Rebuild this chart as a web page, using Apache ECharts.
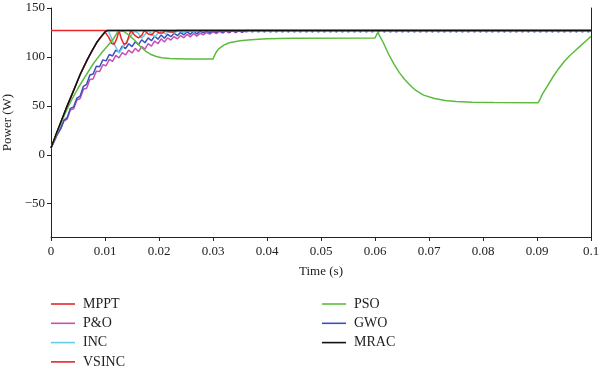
<!DOCTYPE html>
<html>
<head>
<meta charset="utf-8">
<script src="https://cdn.jsdelivr.net/npm/echarts@6/dist/echarts.min.js"></script>
<style>html,body{margin:0;padding:0;background:#fff}#c{width:600px;height:371px}</style>
</head>
<body>
<div id="c"></div>
<script>
// ---- data (time in s, power in W) ----
const xTicks = [0,0.01,0.02,0.03,0.04,0.05,0.06,0.07,0.08,0.09,0.1];
const yTicks = [-50,0,50,100,150];

const mpptT = [0, 0.1];
const mpptP = [127, 127];

const mracT = [0, 0.001, 0.002, 0.003, 0.004, 0.0054, 0.0067, 0.0076, 0.0085, 0.0093, 0.0100, 0.0104, 0.1];
const mracP = [7, 22, 36, 50, 63, 82, 97, 106.5, 115, 121, 125.5, 127, 127];

// ripple curves sampled at every 0.0006 s (peaks/troughs)
const rippleT = [0,0.0006,0.0012,0.0018,0.0024,0.003,0.0036,0.0042,0.0048,0.0054,0.006,0.0066,0.0072,0.0078,0.0084,0.009,0.0096,0.0102,0.0108,0.0114,0.012,0.0126,0.0132,0.0138,0.0144,0.015,0.0156,0.0162,0.0168,0.0174,0.018,0.0186,0.0192,0.0198,0.0204,0.021,0.0216,0.0222,0.0228,0.0234,0.024,0.0246,0.0252,0.0258,0.0264,0.027,0.0276,0.0282,0.0288,0.0294,0.03,0.0306,0.0312,0.0318,0.0324,0.033,0.0336,0.0342,0.0348,0.0354,0.036];
const gwoP = [7,14,21.5,27,35.5,38,47.5,49,58,60,70,72,81.5,82.5,90.5,90,97,96,102.5,101,107,105,111,108.5,113.5,110.5,115.5,112.5,117.5,114.5,119.5,116.5,121.3,118,122.5,119,123.1,120.7,124.2,121.7,125.1,122.5,125.8,123.1,126.4,123.6,126.3,124.5,126.7,124.8,126.9,125,127,125.2,127,125.3,127,125.4,127,125.5,127];
const poP = [7,14,21,26.5,34.5,36.5,46,47,56,57.5,67,68,77,77.5,85.5,85,92,91,97.5,95.5,101.5,99,104.5,102,107,104,108.8,105.5,110.5,108,113.5,111,116.3,113.5,118.5,115.3,119.5,117.2,120.8,118.5,122,119.5,123,120.5,123.9,121.3,124.2,122.6,125,123.3,125.6,123.9,126.1,124.3,126.5,124.7,126.8,124.9,127,125,127];
const poTailT = [0.036, 0.1];
const poTailP = [127, 127];
const gwoTailT = [0.036, 0.1];
const gwoTailP = [125.8, 125.8];

const incT = [0, 0.003, 0.0054, 0.0067, 0.0085, 0.0100, 0.0106, 0.0116, 0.0126, 0.0137, 0.0148, 0.0155, 0.0162, 0.0168, 0.0174, 0.018, 0.0186, 0.0192, 0.0198, 0.0205, 0.0212, 0.022, 0.0228, 0.0236, 0.0245, 0.0255, 0.0265, 0.0275, 0.1];
const incP = [7, 50, 82, 97, 115, 125.5, 127, 114, 104, 113, 122, 126.5, 124, 119, 123, 126.5, 124, 120.5, 124, 126.5, 123.5, 126.5, 124.5, 127, 125, 127, 125.8, 127, 127];

const vsincT = [0, 0.003, 0.0054, 0.0067, 0.0085, 0.0100, 0.0103, 0.0107, 0.0112, 0.0117, 0.0122, 0.0126, 0.013, 0.0135, 0.014, 0.0144, 0.0148, 0.0155, 0.0162, 0.0168, 0.0173, 0.018, 0.0187, 0.0193, 0.02, 0.0207, 0.0213, 0.022, 0.0227, 0.0233, 0.1];
const vsincP = [7, 50, 82, 97, 115, 125.5, 127, 120, 114, 113, 119, 127, 119, 113, 114, 121, 127, 122, 119.5, 122, 127, 123.5, 122.5, 127, 124.5, 124.5, 127, 125.5, 125.5, 127, 127];

const psoT = [0, 0.001, 0.002, 0.003, 0.004, 0.005, 0.006, 0.0077, 0.0085, 0.0095, 0.0105, 0.0115, 0.0125, 0.0135, 0.0145, 0.0155, 0.0165, 0.0175, 0.0185, 0.0195, 0.0205, 0.022, 0.025, 0.0300, 0.0302, 0.0305, 0.031, 0.032, 0.033, 0.035, 0.037, 0.040, 0.045, 0.0600, 0.0602, 0.0605, 0.0607, 0.0615, 0.0625, 0.0635, 0.0645, 0.0655, 0.0665, 0.0675, 0.069, 0.071, 0.073, 0.075, 0.078, 0.082, 0.0902, 0.0905, 0.091, 0.092, 0.093, 0.094, 0.095, 0.096, 0.097, 0.098, 0.099, 0.1];
const psoP = [7, 21, 34, 47, 58, 68, 77, 92, 98, 105, 111.5, 118, 127, 126, 122, 117, 111, 106, 102.5, 100.5, 99.2, 98.5, 98, 98, 100, 104, 108, 112, 114.5, 116.5, 117.5, 118.5, 119, 119.3, 121, 125, 126, 115, 103, 93, 84, 77, 71, 66, 61, 57.5, 55.5, 54.5, 53.8, 53.5, 53.3, 56, 62, 71, 80, 88, 95, 101, 106, 111, 116, 121];

const pairs = (t, p) => t.map((v, i) => [v, p[i]]);

const chart = echarts.init(document.getElementById('c'), null, {renderer: 'canvas'});
const FONT = '"Liberation Serif", "DejaVu Serif", serif';
const C = {MPPT:'#e8262a', PO:'#c84fb4', INC:'#63d0e2', VSINC:'#e8262a', PSO:'#5cbb3e', GWO:'#3a50bb', MRAC:'#111111'};
const ln = (name, data, color, extra) => Object.assign({
  name, type:'line', data, showSymbol:false, symbol:'none', smooth:false,
  lineStyle:{color, width:1.5}, itemStyle:{color}, animation:false, silent:true
}, extra || {});

const yMin = -84, yMax = 150;
const legendBase = {
  orient:'vertical', top:297, itemWidth:24, itemHeight:1.6, itemGap:5.3, padding:0, height:80,
  icon:'rect',
  textStyle:{fontFamily:FONT, fontSize:14, color:'#222', padding:[0,0,0,3], lineHeight:14}
};
chart.setOption({
  animation:false,
  grid:{left:51, right:9, top:8, bottom:134, outerBoundsMode:'none', containLabel:false},
  xAxis:{
    type:'value', min:0, max:0.1, interval:0.01,
    name:'Time (s)', nameLocation:'middle', nameGap:28,
    nameTextStyle:{fontFamily:FONT, fontSize:13, color:'#222'},
    axisLine:{onZero:false, lineStyle:{color:'#222', width:1}},
    axisTick:{show:true, length:4, lineStyle:{color:'#222'}},
    axisLabel:{fontFamily:FONT, fontSize:13, color:'#222', margin:8,
      formatter:v => v === 0 ? '0' : String(+v.toFixed(2))},
    splitLine:{show:false}
  },
  yAxis:[{
    type:'value', min:yMin, max:yMax,
    name:'Power (W)', nameLocation:'middle', nameGap:32,
    nameTextStyle:{fontFamily:FONT, fontSize:13, color:'#222'},
    axisLine:{show:true, onZero:false, lineStyle:{color:'#222', width:1}},
    axisTick:{show:true, length:4, lineStyle:{color:'#222'}, customValues:yTicks},
    axisLabel:{fontFamily:FONT, fontSize:13, color:'#222', margin:6, customValues:yTicks,
      formatter:v => v < 0 ? '\u2212' + Math.abs(v) : String(v)},
    splitLine:{show:false}
  },{
    type:'value', min:yMin, max:yMax, position:'right',
    axisLine:{show:true, onZero:false, lineStyle:{color:'#222', width:1}},
    axisTick:{show:false}, axisLabel:{show:false}, splitLine:{show:false}
  }],
  legend:[
    Object.assign({}, legendBase, {left:51, data:['MPPT','P&O','INC','VSINC']}),
    Object.assign({}, legendBase, {left:322, data:['PSO','GWO','MRAC']})
  ],
  series:[
    ln('MPPT', pairs(mpptT, mpptP), C.MPPT),
    ln('P&O', pairs(rippleT, poP), C.PO),
    ln('P&O', pairs(poTailT, poTailP), C.PO),
    ln('GWO', pairs(gwoTailT, gwoTailP), C.GWO, {lineStyle:{color:C.GWO, width:1.5, type:[2,4]}}),
    ln('GWO', pairs(rippleT, gwoP), C.GWO),
    ln('INC', pairs(incT, incP), C.INC),
    ln('VSINC', pairs(vsincT, vsincP), C.VSINC),
    ln('PSO', pairs(psoT, psoP), C.PSO),
    ln('MRAC', pairs(mracT, mracP), C.MRAC)
  ]
});
</script>
</body>
</html>
